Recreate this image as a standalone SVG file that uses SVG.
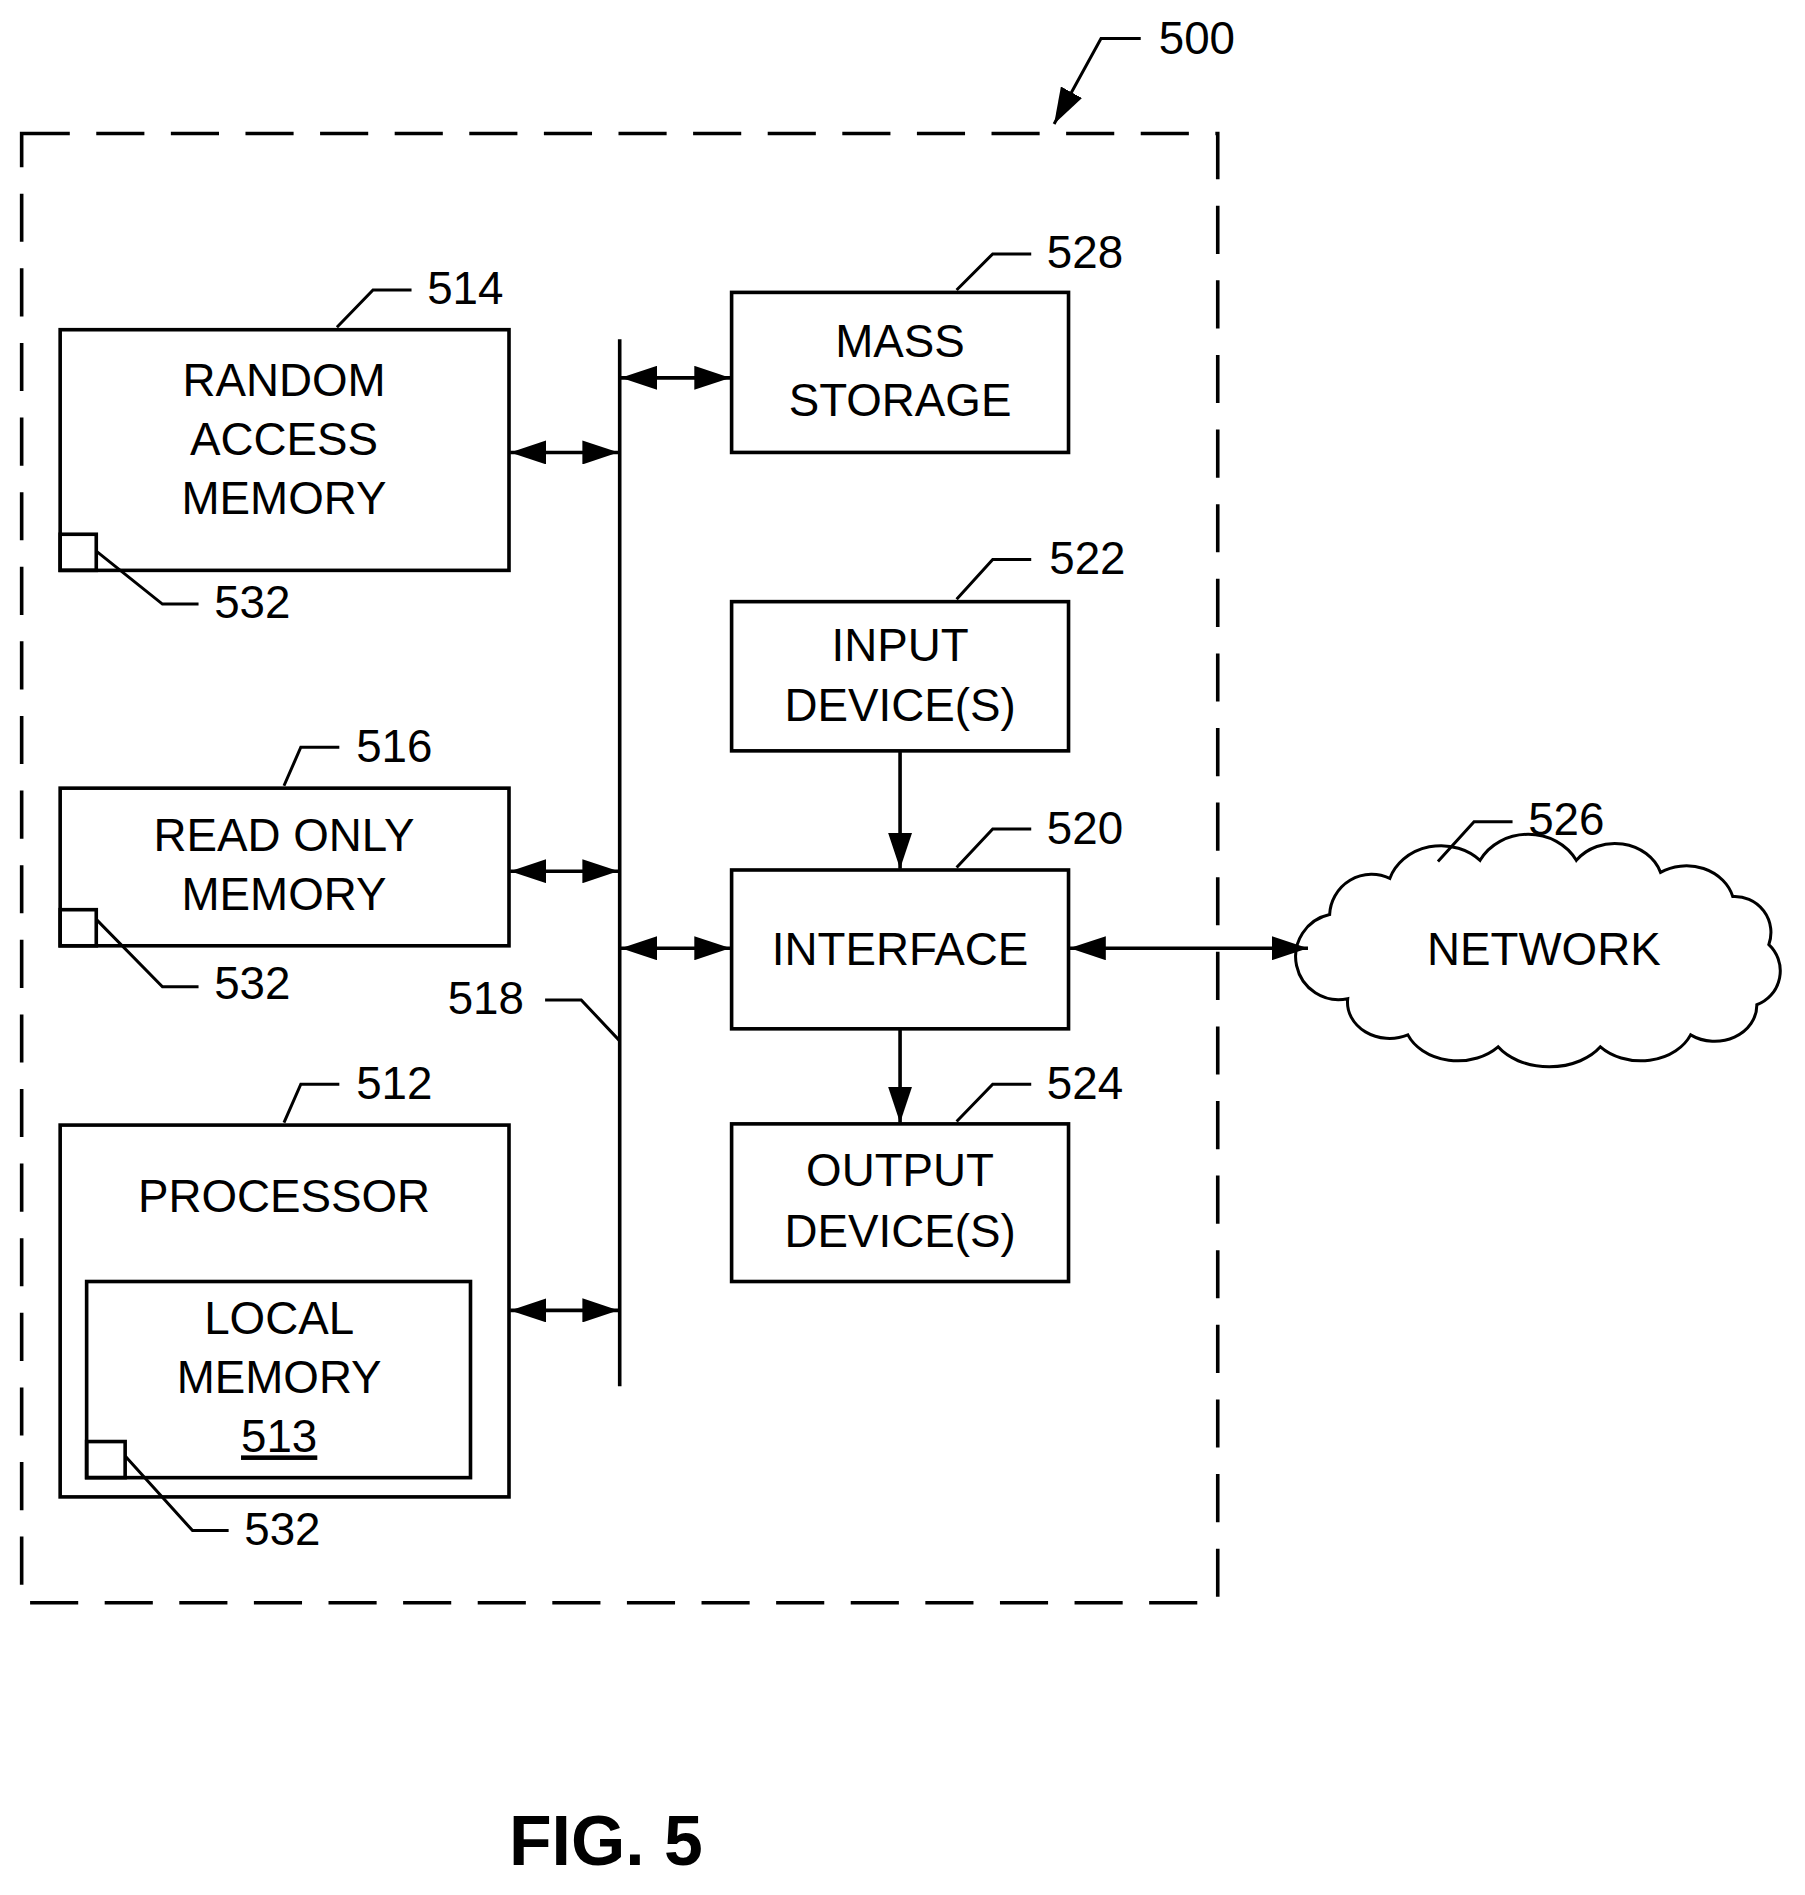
<svg xmlns="http://www.w3.org/2000/svg" width="1805" height="1895" viewBox="0 0 1805 1895">
<style>
.b{fill:none;stroke:#000;stroke-width:3}
.l{fill:none;stroke:#000;stroke-width:2.5}
.t{font-family:"Liberation Sans",Arial,sans-serif;font-size:38px;fill:#000}
.c{text-anchor:middle}
</style>
<defs>
<marker id="ah" viewBox="0 0 30 20" refX="30" refY="10" markerWidth="30" markerHeight="20" markerUnits="userSpaceOnUse" orient="auto-start-reverse"><path d="M0,0L30,10L0,20z" fill="#000"/></marker>
</defs>
<rect width="1805" height="1895" fill="#fff"/>
<g transform="scale(1.2033)">
<g id="boundary500">
<rect x="18" y="111" width="994" height="1221" fill="none" stroke="#000" stroke-width="3" stroke-dasharray="40,22"/>
<path class="l" d="M948,32H915L876,103" marker-end="url(#ah)"/>
<text class="t" x="963" y="45">500</text>
</g>
<g id="ram">
<rect class="b" x="50" y="274" width="373" height="200" fill="#fff"/>
<text class="t c" x="236" y="329">RANDOM</text>
<text class="t c" x="236" y="378">ACCESS</text>
<text class="t c" x="236" y="427">MEMORY</text>
<rect class="b" x="50" y="444" width="30" height="30"/>
<path class="l" d="M80,458L135,502H165"/>
<text class="t" x="178" y="514">532</text>
<path class="l" d="M280,272L310,241H342"/>
<text class="t" x="355" y="253">514</text>
</g>
<g id="rom">
<rect class="b" x="50" y="655" width="373" height="131"/>
<text class="t c" x="236" y="707">READ ONLY</text>
<text class="t c" x="236" y="756">MEMORY</text>
<rect class="b" x="50" y="756" width="30" height="30"/>
<path class="l" d="M80,764L135,820H165"/>
<text class="t" x="178" y="830">532</text>
<path class="l" d="M236,653L250,621H282"/>
<text class="t" x="296" y="633">516</text>
</g>
<g id="processor">
<rect class="b" x="50" y="935" width="373" height="309"/>
<text class="t c" x="236" y="1007">PROCESSOR</text>
<rect class="b" x="72" y="1065" width="319" height="163"/>
<text class="t c" x="232" y="1109">LOCAL</text>
<text class="t c" x="232" y="1158">MEMORY</text>
<text class="t c" x="232" y="1207" text-decoration="underline">513</text>
<rect class="b" x="72" y="1198" width="32" height="30"/>
<path class="l" d="M104,1210L160,1272H190"/>
<text class="t" x="203" y="1284">532</text>
<path class="l" d="M236,933L250,901H282"/>
<text class="t" x="296" y="913">512</text>
</g>
<g id="mass">
<rect class="b" x="608" y="243" width="280" height="133"/>
<text class="t c" x="748" y="297">MASS</text>
<text class="t c" x="748" y="346">STORAGE</text>
<path class="l" d="M795,241L825,211H857"/>
<text class="t" x="870" y="223">528</text>
</g>
<g id="input">
<rect class="b" x="608" y="500" width="280" height="124"/>
<text class="t c" x="748" y="549">INPUT</text>
<text class="t c" x="748" y="599">DEVICE(S)</text>
<path class="l" d="M795,498L825,465H857"/>
<text class="t" x="872" y="477">522</text>
</g>
<g id="interface">
<rect class="b" x="608" y="723" width="280" height="132"/>
<text class="t c" x="748" y="802">INTERFACE</text>
<path class="l" d="M795,721L825,689H857"/>
<text class="t" x="870" y="701">520</text>
</g>
<g id="output">
<rect class="b" x="608" y="934" width="280" height="131"/>
<text class="t c" x="748" y="986">OUTPUT</text>
<text class="t c" x="748" y="1036">DEVICE(S)</text>
<path class="l" d="M795,932L825,901H857"/>
<text class="t" x="870" y="913">524</text>
</g>
<g id="network">
<path class="l" fill="#fff" d="M1105,760a35,35 0 0 1 50,-30a45,40 0 0 1 75,-15a45,40 0 0 1 80,0a40,35 0 0 1 70,10a40,35 0 0 1 60,20a30,30 0 0 1 30,40a30,30 0 0 1 -10,50a35,30 0 0 1 -55,25a45,35 0 0 1 -75,10a50,35 0 0 1 -85,0a45,35 0 0 1 -75,-10a35,30 0 0 1 -50,-30a35,35 0 0 1 -15,-70z"/>
<text class="t c" x="1283" y="802">NETWORK</text>
<path class="l" d="M1195,716L1225,683H1257"/>
<text class="t" x="1270" y="694">526</text>
</g>
<g id="bus518">
<path class="b" d="M515,282V1152"/>
<path class="l" d="M453,831H483L515,865"/>
<text class="t" x="372" y="843">518</text>
</g>
<g id="connectors">
<path class="b" d="M424,376H514" marker-start="url(#ah)" marker-end="url(#ah)"/>
<path class="b" d="M424,724H514" marker-start="url(#ah)" marker-end="url(#ah)"/>
<path class="b" d="M424,1089H514" marker-start="url(#ah)" marker-end="url(#ah)"/>
<path class="b" d="M516,314H607" marker-start="url(#ah)" marker-end="url(#ah)"/>
<path class="b" d="M516,788H607" marker-start="url(#ah)" marker-end="url(#ah)"/>
<path class="b" d="M889,788H1087" marker-start="url(#ah)" marker-end="url(#ah)"/>
<path class="b" d="M748,625V722" marker-end="url(#ah)"/>
<path class="b" d="M748,856V933" marker-end="url(#ah)"/>
</g>
<text x="423" y="1550" style="font-family:'Liberation Sans',Arial,sans-serif;font-size:58px;font-weight:bold">FIG.  5</text>
</g>
</svg>
